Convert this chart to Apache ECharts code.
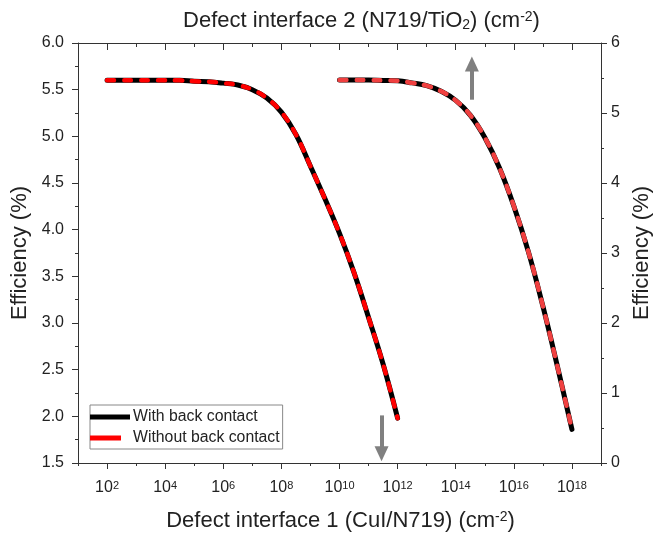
<!DOCTYPE html>
<html><head><meta charset="utf-8">
<script src="https://cdn.jsdelivr.net/npm/echarts@6/dist/echarts.min.js"></script>
<style>html,body{margin:0;padding:0;background:#fff}#c{width:653px;height:538px}</style>
</head><body><div id="c"></div>
<script>
// Defect interface 1 (CuI/N719) densities and efficiency (left axis)
const interface1Density = [1e2, 3.16e2, 1e3, 3.16e3, 1e4, 3.16e4, 1e5, 3.16e5, 1e6, 3.16e6, 1e7, 3.16e7, 1e8, 3.16e8, 1e9, 3.16e9, 1e10, 3.16e10, 1e11, 3.16e11, 1e12];
const efficiency1 = [5.60, 5.60, 5.60, 5.60, 5.60, 5.60, 5.59, 5.585, 5.57, 5.55, 5.50, 5.41, 5.26, 5.02, 4.68, 4.33, 3.96, 3.54, 3.06, 2.56, 1.98];
// Defect interface 2 (N719/TiO2) densities and efficiency (right axis)
const interface2Density = [1e10, 3.16e10, 1e11, 3.16e11, 1e12, 3.16e12, 1e13, 3.16e13, 1e14, 3.16e14, 1e15, 3.16e15, 1e16, 3.16e16, 1e17, 3.16e17, 1e18];
const efficiency2 = [5.47, 5.47, 5.47, 5.465, 5.46, 5.43, 5.39, 5.31, 5.18, 4.97, 4.65, 4.22, 3.67, 3.02, 2.24, 1.38, 0.48];
const seriesNames = ['With back contact', 'Without back contact'];
// axis ticks
const majorTicks = [1e2, 1e4, 1e6, 1e8, 1e10, 1e12, 1e14, 1e16, 1e18];
const minorTicks = [1e1, 1e3, 1e5, 1e7, 1e9, 1e11, 1e13, 1e15, 1e17, 1e19];
// annotation arrows: [x, yFrom, yTo]
const arrowDown = [2.8e11, 2.01, 1.6];
const arrowUp = [3.6e14, 5.19, 5.70];

const FONT = '"Liberation Sans", Arial, sans-serif';
const TXT = '#222';
const AX = '#333';
const pair = (xs, ys) => xs.map((x, i) => [x, ys[i]]);
const supRich = {
  sup: {fontSize: 11, verticalAlign: 'top', fontFamily: FONT, color: TXT}
};
const logLabel = v => '10{sup|' + Math.round(Math.log10(v)) + '}';
const nameRich = {
  sup: {fontSize: 14, verticalAlign: 'top', fontFamily: FONT, color: TXT},
  sub: {fontSize: 14, verticalAlign: 'bottom', fontFamily: FONT, color: TXT}
};

function xAx(pos, opts) {
  return Object.assign({
    type: 'log', logBase: 10, min: 10, max: 1e19, position: pos,
    axisLine: {show: true, onZero: false, lineStyle: {color: AX, width: 1}},
    axisTick: {show: false},
    axisLabel: {show: false},
    splitLine: {show: false}, minorSplitLine: {show: false}
  }, opts);
}

const chart = echarts.init(document.getElementById('c'));
chart.setOption({
  animation: false,
  textStyle: {fontFamily: FONT, color: TXT},
  grid: {left: 78, right: 52, top: 43, bottom: 75, containLabel: false, outerBoundsMode: 'none'},
  legend: {
    left: 90, top: 405, orient: 'vertical', itemWidth: 40, itemHeight: 5, itemGap: 5,
    padding: [4, 3, 3, 0], borderColor: '#888', borderWidth: 1, backgroundColor: '#fff',
    textStyle: {fontSize: 15.8, color: TXT, fontFamily: FONT, padding: [0, 0, 0, -2]},
    data: [
      {name: seriesNames[0], icon: 'rect', itemStyle: {color: '#000'}},
      {name: seriesNames[1], icon: 'path://M0 0H31V5H0Z M40 0L40 0.01', itemStyle: {color: '#ff0000'}}
    ]
  },
  xAxis: [
    xAx('bottom', {
      axisTick: {show: true, inside: false, length: 6, customValues: majorTicks, lineStyle: {color: AX}},
      axisLabel: {show: true, customValues: majorTicks, formatter: logLabel, fontSize: 16, color: TXT, margin: 17, rich: supRich},
      name: 'Defect interface 1 (CuI/N719) (cm{sup|-2})',
      nameLocation: 'middle', nameGap: 47,
      nameTextStyle: {fontSize: 22, color: TXT, fontFamily: FONT, padding: [0, 0, 0, 2], rich: nameRich}
    }),
    xAx('top', {
      axisTick: {show: true, inside: true, length: 7, customValues: majorTicks, lineStyle: {color: AX}},
      name: 'Defect interface 2 (N719/TiO{sub|2}) (cm{sup|-2})',
      nameLocation: 'middle', nameGap: 11,
      nameTextStyle: {fontSize: 22, color: TXT, fontFamily: FONT, padding: [0, 0, 0, 44], rich: nameRich}
    }),
    xAx('bottom', {axisLine: {show: false}, axisTick: {show: true, inside: false, length: 3, customValues: minorTicks, lineStyle: {color: AX}}}),
    xAx('top', {axisLine: {show: false}, axisTick: {show: true, inside: true, length: 4, customValues: minorTicks, lineStyle: {color: AX}}})
  ],
  yAxis: [
    {
      type: 'value', min: 1.5, max: 6, interval: 0.5, position: 'left',
      axisLine: {show: true, onZero: false, lineStyle: {color: AX}},
      axisTick: {show: true, inside: false, length: 6, lineStyle: {color: AX}},
      minorTick: {show: true, splitNumber: 2, length: 3, lineStyle: {color: AX}},
      axisLabel: {formatter: v => v.toFixed(1), fontSize: 16, color: TXT, margin: 14},
      splitLine: {show: false},
      name: 'Efficiency (%)', nameLocation: 'middle', nameGap: 46,
      nameTextStyle: {fontSize: 22, color: TXT, fontFamily: FONT}
    },
    {
      type: 'value', min: 0, max: 6, interval: 1, position: 'right',
      axisLine: {show: true, onZero: false, lineStyle: {color: AX}},
      axisTick: {show: true, inside: false, length: 6, lineStyle: {color: AX}},
      minorTick: {show: true, splitNumber: 2, length: 3, lineStyle: {color: AX}},
      axisLabel: {fontSize: 16, color: TXT, margin: 10},
      splitLine: {show: false},
      name: 'Efficiency (%)', nameLocation: 'middle', nameGap: 29,
      nameTextStyle: {fontSize: 22, color: TXT, fontFamily: FONT}
    }
  ],
  series: [
    {
      name: seriesNames[0], type: 'line', xAxisIndex: 0, yAxisIndex: 0,
      data: pair(interface1Density, efficiency1), showSymbol: false, symbol: 'none',
      smooth: 0.4, color: '#000',
      lineStyle: {color: '#000', width: 5, cap: 'round'},
      markLine: {
        silent: true, symbol: ['none', 'triangle'], symbolSize: [14, 15], label: {show: false},
        lineStyle: {color: '#808080', width: 4, type: 'solid'},
        data: [[{coord: [arrowDown[0], arrowDown[1]]}, {coord: [arrowDown[0], arrowDown[2]]}]]
      }
    },
    {
      name: seriesNames[1], type: 'line', xAxisIndex: 0, yAxisIndex: 0,
      data: pair(interface1Density, efficiency1), showSymbol: false, symbol: 'none',
      smooth: 0.4, color: '#ff0000',
      lineStyle: {color: '#ff0000', width: 4.5, type: [7, 10], cap: 'round'}
    },
    {
      name: seriesNames[0], type: 'line', xAxisIndex: 1, yAxisIndex: 1,
      data: pair(interface2Density, efficiency2), showSymbol: false, symbol: 'none',
      smooth: 0.4, color: '#000',
      lineStyle: {color: '#000', width: 5, cap: 'round'},
      markLine: {
        silent: true, symbol: ['none', 'triangle'], symbolSize: [14, 15], label: {show: false},
        lineStyle: {color: '#808080', width: 4, type: 'solid'},
        data: [[{coord: [arrowUp[0], arrowUp[1]]}, {coord: [arrowUp[0], arrowUp[2]]}]]
      }
    },
    {
      name: seriesNames[1], type: 'line', xAxisIndex: 1, yAxisIndex: 1,
      data: pair(interface2Density, efficiency2), showSymbol: false, symbol: 'none',
      smooth: 0.4, color: '#f04040',
      lineStyle: {color: '#f04040', width: 4.5, type: [7, 10], cap: 'round'}
    }
  ]
});
</script></body></html>
